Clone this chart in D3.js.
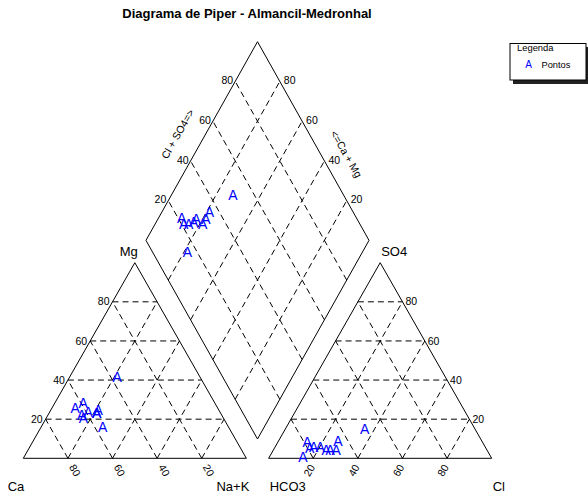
<!DOCTYPE html>
<html>
<head>
<meta charset="utf-8">
<script src="https://cdn.jsdelivr.net/npm/d3@7"></script>
<style>
  html, body { margin: 0; padding: 0; background: #fff; }
  svg { display: block; font-family: "Liberation Sans", Arial, sans-serif; }
</style>
</head>
<body>
<svg id="chart" width="588" height="497"></svg>
<script>
// ---------------- DATA ----------------
const title = "Diagrama de Piper - Almancil-Medronhal";
const ticks = [20, 40, 60, 80];
// cations (% meq)
const cationMg = [16.2, 41.4, 25.6, 28.1, 22.1, 20.5, 23.8, 24.7, 23.0, 23.0];
const cationNa = [27.5, 21.4, 10.4, 12.8, 15.1, 16.7, 17.2, 21.2, 21.4, 21.4];
// anions (% meq)
const anionSO4 = [14.8, 0.8, 8.5, 5.1, 5.9, 5.9, 4.2, 4.2, 4.2, 9.0];
const anionCl  = [35.6, 15.0, 13.0, 15.8, 17.2, 20.2, 23.7, 25.5, 28.2, 26.6];
const vertexLabels = { ca: "Ca", na: "Na+K", mg: "Mg", hco3: "HCO3", cl: "Cl", so4: "SO4" };
const diamondTitles = ["Cl + SO4=>", "<=Ca + Mg"];
const legendTitle = "Legenda";
const legendItems = ["Pontos"];
const pointSymbol = "A";

// ---------------- GEOMETRY ----------------
const S3 = Math.sqrt(3) / 2;
const GAP = 0.1;
const px = d3.scaleLinear().domain([0, 2 + GAP]).range([23.3, 491.7]);
const pyT = d3.scaleLinear().domain([0, S3]).range([458.3, 262.7]);
const pyD = d3.scaleLinear().domain([GAP * S3, GAP * S3 + 2 * S3]).range([439, 41.7]);

function cat(mg, na) { // fractions
  return [px(na + mg / 2), pyT(mg * S3)];
}
function ani(so4, cl) {
  return [px(1 + GAP + cl + so4 / 2), pyT(so4 * S3)];
}
function dia(a, c) { // a = Cl+SO4, c = Ca+Mg
  return [px(1 + GAP / 2 + 0.5 * (a - c)), pyD(GAP * S3 + S3 + S3 * (a + c - 1))];
}

const svg = d3.select("#chart");
const line = d3.line();
const gGrid = svg.append("g");
const gFrame = svg.append("g");
const gText = svg.append("g").attr("fill", "#000");

function dashed(p1, p2) {
  gGrid.append("path").attr("d", line([p1, p2]))
    .attr("stroke", "#000").attr("stroke-width", 1)
    .attr("stroke-dasharray", "6,4").attr("fill", "none");
}

// grids
ticks.forEach(v => {
  const t = v / 100;
  dashed(cat(t, 0), cat(t, 1 - t));
  dashed(cat(0, t), cat(1 - t, t));
  dashed(cat(0, 1 - t), cat(1 - t, 0));
  dashed(ani(t, 0), ani(t, 1 - t));
  dashed(ani(0, t), ani(1 - t, t));
  dashed(ani(0, 1 - t), ani(1 - t, 0));
  dashed(dia(t, 0), dia(t, 1));
  dashed(dia(0, t), dia(1, t));
});

// frames
const frame = pts => gFrame.append("path").attr("d", line(pts) + "Z")
  .attr("fill", "none").attr("stroke", "#000").attr("stroke-width", 1);
frame([cat(0, 0), cat(0, 1), cat(1, 0)]);
frame([ani(0, 0), ani(0, 1), ani(1, 0)]);
frame([dia(0, 0), dia(0, 1), dia(1, 1), dia(1, 0)]);

// tick labels
const TS = 10.5;
ticks.forEach(v => {
  const t = v / 100;
  let p;
  p = cat(t, 0);
  gText.append("text").attr("x", p[0] - 3).attr("y", p[1]).attr("dy", "0.35em")
    .attr("text-anchor", "end").attr("font-size", TS).text(v);
  p = cat(0, 1 - t);
  gText.append("text").attr("transform", `translate(${p[0] + 7},${p[1] + 12}) rotate(60)`)
    .attr("text-anchor", "middle").attr("dy", "0.35em").attr("font-size", TS).text(v);
  p = ani(0, t);
  gText.append("text").attr("transform", `translate(${p[0] - 4},${p[1] + 12}) rotate(-60)`)
    .attr("text-anchor", "middle").attr("dy", "0.35em").attr("font-size", TS).text(v);
  p = ani(t, 1 - t);
  gText.append("text").attr("x", p[0] + 3).attr("y", p[1]).attr("dy", "0.35em")
    .attr("text-anchor", "start").attr("font-size", TS).text(v);
  p = dia(t, 1);
  gText.append("text").attr("x", p[0] - 2).attr("y", p[1] - 1).attr("dy", "0.35em")
    .attr("text-anchor", "end").attr("font-size", TS).text(v);
  p = dia(1, t);
  gText.append("text").attr("x", p[0] + 4).attr("y", p[1] - 1).attr("dy", "0.35em")
    .attr("text-anchor", "start").attr("font-size", TS).text(v);
});

// diamond axis titles
let q = dia(0.5, 1);
gText.append("text").attr("transform", `translate(${q[0] - 24},${q[1] - 7}) rotate(-60)`)
  .attr("text-anchor", "middle").attr("dy", "0.35em").attr("font-size", TS).text(diamondTitles[0]);
q = dia(1, 0.5);
gText.append("text").attr("transform", `translate(${q[0] + 33},${q[1] + 13}) rotate(60)`)
  .attr("text-anchor", "middle").attr("dy", "0.35em").attr("font-size", TS).text(diamondTitles[1]);

// vertex labels
const VS = 13;
function vlab(p, dx, y, anchor, txt) {
  gText.append("text").attr("x", p[0] + dx).attr("y", y).attr("text-anchor", anchor)
    .attr("font-size", VS).text(txt);
}
vlab(cat(0, 0), 1, 491, "end", vertexLabels.ca);
vlab(cat(0, 1), 3, 491, "end", vertexLabels.na);
vlab(cat(1, 0), 3, 256, "end", vertexLabels.mg);
vlab(ani(0, 0), 1, 491, "start", vertexLabels.hco3);
vlab(ani(0, 1), 1, 491, "start", vertexLabels.cl);
vlab(ani(1, 0), 1, 256, "start", vertexLabels.so4);

// title
svg.append("text").attr("x", 247).attr("y", 18).attr("text-anchor", "middle")
  .attr("font-size", 13).attr("font-weight", "bold").text(title);

// points
const gPts = svg.append("g").attr("fill", "#0000ff").attr("font-size", 14)
  .attr("text-anchor", "middle");
const n = cationMg.length;
for (let i = 0; i < n; i++) {
  const mg = cationMg[i] / 100, na = cationNa[i] / 100;
  const so4 = anionSO4[i] / 100, cl = anionCl[i] / 100;
  const pc = cat(mg, na), pa = ani(so4, cl), pd = dia(so4 + cl, 1 - na);
  [pc, pa, pd].forEach(p => {
    gPts.append("text").attr("x", p[0]).attr("y", p[1]).attr("dy", "0.36em").text(pointSymbol);
  });
}

// legend
const lg = svg.append("g");
lg.append("rect").attr("x", 513).attr("y", 47).attr("width", 76).attr("height", 37).attr("fill", "#222");
lg.append("rect").attr("x", 510).attr("y", 43.5).attr("width", 76).attr("height", 36.5)
  .attr("fill", "#fff").attr("stroke", "#000").attr("stroke-width", 1);
lg.append("text").attr("x", 517).attr("y", 51).attr("font-size", 9.4).text(legendTitle);
lg.append("text").attr("x", 528.7).attr("y", 68.3).attr("text-anchor", "middle")
  .attr("font-size", 10).attr("fill", "#0000ff").text(pointSymbol);
lg.append("text").attr("x", 541.5).attr("y", 68.3).attr("font-size", 9.3).text(legendItems[0]);
</script>
</body>
</html>
